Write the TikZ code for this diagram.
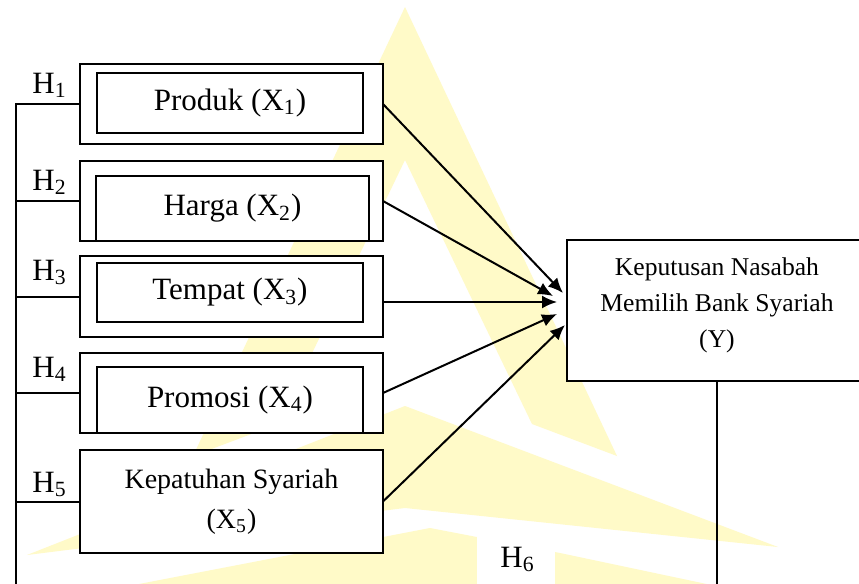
\documentclass[tikz,border=0pt]{standalone}
\usepackage{fontspec}
\setmainfont{Liberation Serif}
\usetikzlibrary{arrows.meta}
\definecolor{wm}{RGB}{255,250,200}
\begin{document}
\begin{tikzpicture}[x=0.5pt,y=-0.5pt,
  box/.style={draw,line width=1pt,fill=white,inner sep=0pt,outer sep=0pt},
  txt/.style={font=\fontsize{15.5}{18}\selectfont},
  lbl/.style={font=\fontsize{15.5}{18}\selectfont,inner sep=0pt,anchor=base west},
  conn/.style={line width=1pt},
  arr/.style={line width=1pt,-{Latex[length=7.5pt,width=6.5pt]}},
]
\useasboundingbox (0,0) rectangle (859,584);
\clip (0,0) rectangle (859,584);
\fill[white] (0,0) rectangle (859,584);
% watermark (background)
\fill[wm] (405,7) -- (617,456) -- (532,424) -- (405,160) -- (278,424) -- (193,456) -- cycle;
\fill[wm] (27,555) -- (405,406) -- (778,547) -- (405,508) -- cycle;
\fill[wm] (139,584) -- (430,528) -- (560,553) -- (735,590) -- cycle;
\fill[white] (477,537) rectangle (555,590);

% outer boxes
\node[box,minimum width=151.5pt,minimum height=40pt] (b1) at (231.5,104) {};
\node[box,minimum width=151.5pt,minimum height=40pt] (b2) at (231.5,201) {};
\node[box,minimum width=151.5pt,minimum height=40.5pt] (b3) at (231.5,296.5) {};
\node[box,minimum width=151.5pt,minimum height=40pt] (b4) at (231.5,393) {};
\node[box,minimum width=151.5pt,minimum height=51.5pt,align=center,
      font=\fontsize{14}{20}\selectfont] (b5) at (231.5,501.5)
      {Kepatuhan Syariah\\(X\textsubscript{5})};
% inner boxes
\node[box,txt,minimum width=133pt,minimum height=30pt] (i1) at (230,103) {Produk (X\textsubscript{1})};
\node[box,txt,minimum width=136.5pt,minimum height=32.5pt] (i2) at (232.5,208.5) {Harga (X\textsubscript{2})};
\node[box,txt,minimum width=133pt,minimum height=29.5pt] (i3) at (230,292.5) {Tempat (X\textsubscript{3})};
\node[box,txt,minimum width=133pt,minimum height=33pt] (i4) at (230,400) {Promosi (X\textsubscript{4})};

% dependent variable
\node[box,minimum width=150pt,minimum height=70.5pt] (yb) at (717,310.5) {};
\node[align=center,inner sep=0pt,font=\fontsize{12.8}{18}\selectfont] (yt) at (717,305)
  {Keputusan Nasabah\\Memilih Bank Syariah\\(Y)};

% hypothesis labels
\node[lbl] (h1) at (32,93) {H\textsubscript{1}};
\node[lbl] (h2) at (32,190) {H\textsubscript{2}};
\node[lbl] (h3) at (32,280) {H\textsubscript{3}};
\node[lbl] (h4) at (32,377) {H\textsubscript{4}};
\node[lbl] (h5) at (32,492) {H\textsubscript{5}};
\node[lbl] (h6) at (500,567) {H\textsubscript{6}};

% left bracket line
\coordinate (lb) at (16,584);
\draw[conn] (b1.west) -| (lb);
\draw[conn] (b2.west) -- (b2.west -| lb);
\draw[conn] (b3.west) -- (b3.west -| lb);
\draw[conn] (b4.west) -- (b4.west -| lb);
\draw[conn] (b5.west) -- (b5.west -| lb);

% Y down line
\coordinate (yd) at (717,584);
\draw[conn] (yb.south) -- (yd);

% arrows
\coordinate (t1) at (563,293);
\coordinate (t2) at (553,296);
\coordinate (t3) at (557,302);
\coordinate (t4) at (557,314);
\coordinate (t5) at (565,325);
\draw[arr] (b1.east) -- (t1);
\draw[arr] (b2.east) -- (t2);
\draw[arr] (b3.east |- t3) -- (t3);
\draw[arr] (b4.east) -- (t4);
\draw[arr] (b5.east) -- (t5);
\end{tikzpicture}
\end{document}
